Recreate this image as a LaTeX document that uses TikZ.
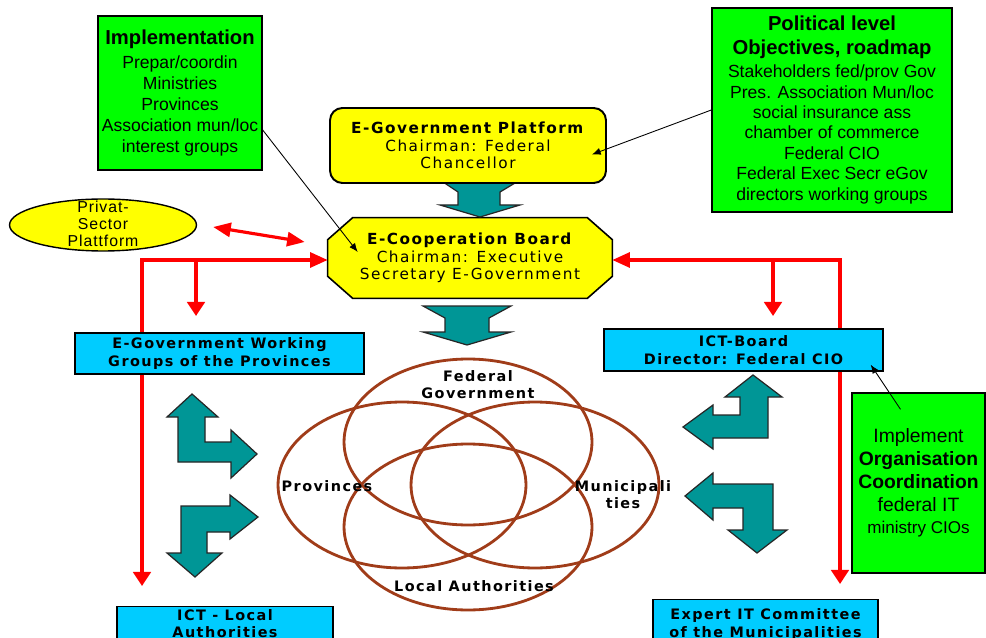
\documentclass[tikz,border=0pt]{standalone}
\usepackage{fontspec}
\setmainfont{Liberation Sans}
\newfontfamily\verdana[LetterSpace=10]{DejaVu Sans}
\newfontfamily\arialwide[LetterSpace=6]{Liberation Sans}
\usetikzlibrary{positioning, calc, arrows.meta, shapes.geometric, backgrounds}

\definecolor{boxgreen}{RGB}{0,255,0}
\definecolor{boxblue}{RGB}{0,204,255}
\definecolor{boxyellow}{RGB}{255,255,0}
\definecolor{arrowteal}{RGB}{0,150,150}
\definecolor{vennbrown}{RGB}{160,60,25}

\newcommand{\titlefont}{\bfseries\fontsize{11.5}{11.6}\selectfont}

\tikzset{
    greenbox/.style={draw, fill=boxgreen, line width=0.8pt, align=center, inner sep=0pt},
    bluebox/.style={draw, fill=boxblue, line width=0.8pt, align=center, inner xsep=0pt, font=\verdana\bfseries\fontsize{8.2}{10}\selectfont},
    yellowbox/.style={align=center, inner sep=0pt, font=\verdana\fontsize{8.7}{10.1}\selectfont},
    redline/.style={draw=red, line width=1.8pt},
    downtip/.style={-{Triangle[length=8pt, width=10pt]}},
    notearrow/.style={draw, line width=0.5pt, -{Latex[length=5pt, width=4pt]}},
    tealarrow/.style={fill=arrowteal, draw=black!85, line width=0.7pt},
    venn/.style={draw=vennbrown, line width=1.6pt},
    vennlabel/.style={align=center, inner sep=0pt, font=\verdana\bfseries\fontsize{8.2}{9.8}\selectfont}
}

\begin{document}
\begin{tikzpicture}[x=0.02cm, y=-0.02cm]
    \useasboundingbox (0,0) rectangle (986,638);
    \clip (0,0) rectangle (986,638);

    %Teal arrow Platform <-> Board (top end under the platform)
    \filldraw[tealarrow] (440,180) -- (520,180) -- (500,192) -- (500,205) -- (520,205) -- (480,217) -- (440,205) -- (458,205) -- (458,192) -- cycle;

    %Yellow boxes
    \node[yellowbox, draw, fill=boxyellow, line width=1.1pt, rounded corners=7pt, minimum width=5.52cm, minimum height=1.5cm] (platform) at (468,145.5) {\textbf{E-Government Platform}\\Chairman: Federal\\Chancellor};
    \node[yellowbox, minimum width=5.68cm, minimum height=1.6cm] (board) at (470,258) {\textbf{E-Cooperation Board}\\Chairman: Executive\\Secretary E-Government};
    \begin{scope}[on background layer]
        \fill[white] (0,0) rectangle (986,638);
        \filldraw[fill=boxyellow, line width=0.9pt] ($(board.north west)+(25,0)$) -- ($(board.north east)+(-25,0)$) -- ($(board.north east)+(0,22)$) -- ($(board.south east)+(0,-22)$) -- ($(board.south east)+(-25,0)$) -- ($(board.south west)+(25,0)$) -- ($(board.south west)+(0,-22)$) -- ($(board.north west)+(0,22)$) -- cycle;
    \end{scope}
    \node[draw, fill=boxyellow, ellipse, line width=0.8pt, minimum width=3.74cm, minimum height=1.04cm, inner sep=0pt] (privat) at (103,225) {};
    \node[align=center, inner sep=0pt, font=\arialwide\fontsize{9}{9.6}\selectfont] (privattext) at (103,224) {Privat-\\Sector\\Plattform};

    %Red lines
    \coordinate (lturn) at (142,260);
    \coordinate (lend) at (142,586);
    \coordinate (lfork) at (196,260);
    \coordinate (rturn) at (840,260);
    \coordinate (rend) at (840,584);
    \coordinate (rfork) at (773,260);
    \draw[redline, {Triangle[length=8pt, width=10pt]}-{Triangle[length=10pt, width=8.5pt]}] (lend) -- (lturn) -- (lturn -| board.west);
    \draw[redline, {Triangle[length=8pt, width=10pt]}-{Triangle[length=10pt, width=8.5pt]}] (rend) -- (rturn) -- (rturn -| board.east);
    \draw[redline, downtip] (lfork) -- ++(0,56);
    \draw[redline, downtip] (rfork) -- ++(0,56);
    \draw[redline, {Triangle[length=10pt, width=8pt]}-{Triangle[length=10pt, width=8pt]}] ($(privat.east)+(16,2)$) -- ($(board.west)+(-23,-16)$);

    %Blue boxes
    \node[bluebox, minimum width=5.78cm, minimum height=0.82cm, inner ysep=0pt] (wgp) at (219.5,353.5) {E-Government Working\\Groups of the Provinces};
    \node[bluebox, minimum width=5.58cm, minimum height=0.84cm, inner ysep=0pt] (ictb) at (743.5,350) {ICT-Board\\Director: Federal CIO};
    \node[bluebox, anchor=north, minimum width=4.32cm, inner ysep=1.5pt] (ictl) at (225,606) {ICT - Local\\Authorities};
    \node[bluebox, anchor=north, minimum width=4.5cm, inner ysep=5pt] (expert) at (765.5,599) {Expert IT Committee\\of the Municipalities};

    %Green boxes
    \node[greenbox, minimum width=3.28cm, minimum height=3.08cm, font=\fontsize{10}{11.9}\selectfont] (impl) at (180,93) {{\titlefont Implementation}\\[1.5pt]Prepar/coordin\\Ministries\\Provinces\\Association mun/loc\\interest groups};
    \node[greenbox, minimum width=4.8cm, minimum height=4.08cm, font=\fontsize{10}{11.6}\selectfont] (polit) at (832,110) {{\titlefont Political level}\\[2pt]{\titlefont Objectives, roadmap}\\[1.5pt]Stakeholders fed/prov Gov\\Pres. Association Mun/loc\\social insurance ass\\chamber of commerce\\Federal CIO\\Federal Exec Secr eGov\\directors working groups};
    \node[greenbox, minimum width=2.66cm, minimum height=3.6cm, font=\fontsize{11}{13}\selectfont] (implr) at (918.5,483) {Implement\\\textbf{Organisation}\\\textbf{Coordination}\\federal IT\\{\fontsize{9.7}{13}\selectfont ministry CIOs}};

    %Notes
    \draw[notearrow] ($(impl.east)+(0,37)$) -- ($(board.west)+(30,-6)$);
    \draw[notearrow] (polit.west) -- ($(platform.east)+(-15,9)$);
    \draw[notearrow] ($(implr.north)+(-18,17)$) -- ($(ictb.south east)+(-13,-7)$);

    %Teal arrows
    \filldraw[tealarrow] (423,306) -- (511,306) -- (489,318) -- (489,332) -- (511,332) -- (467,345) -- (423,332) -- (445,332) -- (445,318) -- cycle;
    \filldraw[tealarrow] (192,394) -- (218,417) -- (205,417) -- (205,442) -- (231,442) -- (231,430) -- (257,454) -- (231,478) -- (231,462) -- (178,462) -- (178,417) -- (167,417) -- cycle;
    \filldraw[tealarrow] (258,517) -- (230,495) -- (230,506) -- (181,506) -- (181,553) -- (167,553) -- (195,577) -- (222,553) -- (207,553) -- (207,532) -- (230,532) -- (230,539) -- cycle;
    \filldraw[tealarrow] (753,375) -- (782,397) -- (768,397) -- (768,438) -- (713,438) -- (713,449) -- (683,427) -- (713,405) -- (713,415) -- (740,415) -- (740,397) -- (725,397) -- cycle;
    \filldraw[tealarrow] (685,496) -- (713,473) -- (713,484) -- (773,484) -- (773,530) -- (787,530) -- (757,553) -- (728,530) -- (743,530) -- (743,508) -- (713,508) -- (713,520) -- cycle;

    %Venn
    \draw[venn] (468,442) ellipse [x radius=2.48cm, y radius=1.66cm];
    \draw[venn] (402,485) ellipse [x radius=2.48cm, y radius=1.66cm];
    \draw[venn] (535,485) ellipse [x radius=2.48cm, y radius=1.66cm];
    \draw[venn] (468,527) ellipse [x radius=2.48cm, y radius=1.66cm];
    \node[vennlabel] (fedgov) at (478,385) {Federal\\Government};
    \node[vennlabel] (prov) at (327,486) {Provinces};
    \node[vennlabel] (muni) at (623,495) {Municipali\\ties};
    \node[vennlabel] (local) at (474,586) {Local Authorities};
\end{tikzpicture}
\end{document}
